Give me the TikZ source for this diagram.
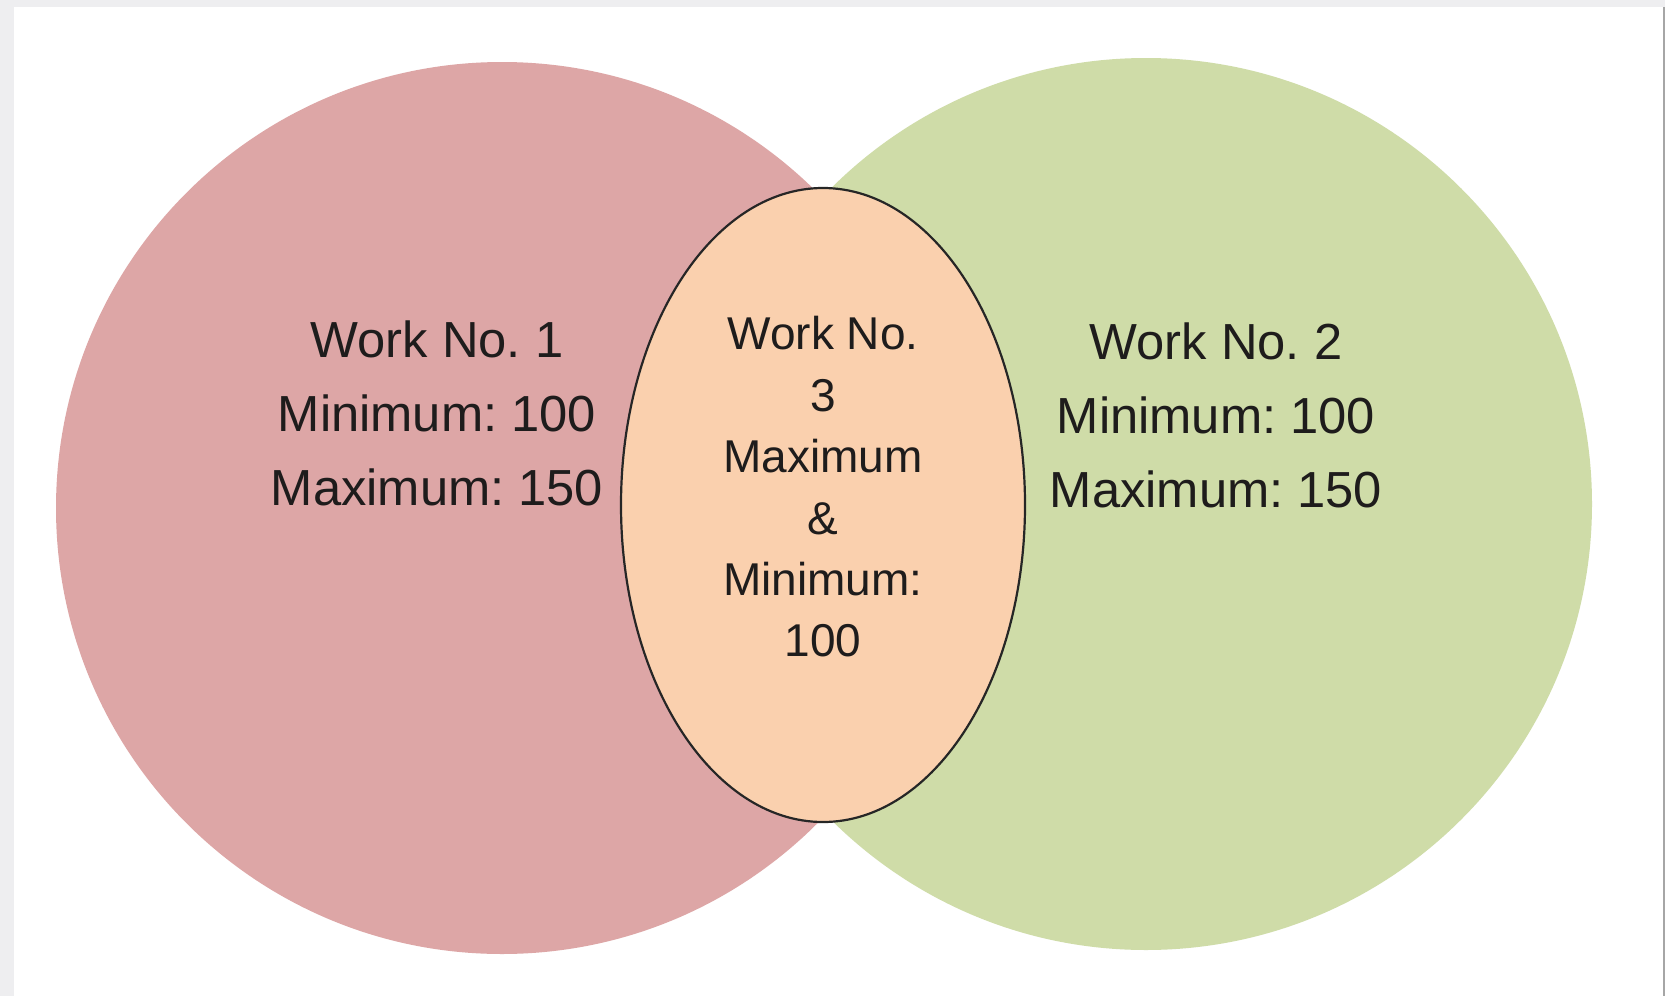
\documentclass[tikz,border=0pt]{standalone}
\usepackage{fontspec}
\setmainfont{Liberation Sans}
\usetikzlibrary{shapes.geometric}
\frenchspacing
\definecolor{pinkc}{RGB}{221,166,166}
\definecolor{greenc}{RGB}{207,220,168}
\definecolor{peachc}{RGB}{250,208,174}
\definecolor{txt}{RGB}{30,28,28}
\definecolor{edgegray}{RGB}{238,238,240}
\tikzset{
  setcircle/.style={circle, minimum size=892pt, inner sep=0pt},
  bigtext/.style={align=center, text=txt, font=\frenchspacing\fontsize{50.7}{74}\selectfont, inner sep=0pt},
  midtext/.style={align=center, text=txt, font=\frenchspacing\fontsize{46}{61.4}\selectfont, inner sep=0pt}
}
\begin{document}
\begin{tikzpicture}[x=1pt,y=-1pt]
\useasboundingbox (0,0) rectangle (1665,996);
\fill[white] (0,0) rectangle (1665,996);
\fill[edgegray] (0,0) rectangle (1665,7);
\fill[edgegray] (0,0) rectangle (14,996);
\draw[gray!70, line width=1.5pt] (1664,7) -- (1664,996);
\node[setcircle, fill=pinkc] (c1) at (502,508) {};
\node[setcircle, fill=greenc] (c2) at (1146,504) {};
\node[ellipse, draw=black!85, line width=2.2pt, fill=peachc, minimum width=404pt, minimum height=634pt, inner sep=0pt] (mid) at (823,505) {};
\node[bigtext] (t1) at (437,413) {Work No. 1\\Minimum: 100\\Maximum: 150};
\node[bigtext] (t2) at (1216,415) {Work No. 2\\Minimum: 100\\Maximum: 150};
\node[midtext] (t3) at (823,487) {Work No.\\3\\Maximum\\\&\\Minimum:\\100};
\end{tikzpicture}
\end{document}
